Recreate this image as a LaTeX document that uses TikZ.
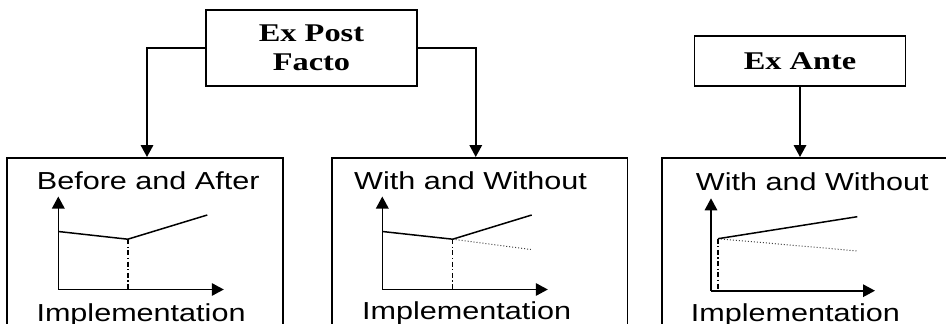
\documentclass[tikz,border=0pt]{standalone}
\usepackage{fontspec}
\newfontfamily\labelfont[FakeStretch=1.243]{Liberation Sans}
\newfontfamily\headfont[FakeStretch=1.27]{Liberation Serif}
\usetikzlibrary{arrows.meta}
\begin{document}
\begin{tikzpicture}[x=1pt,y=-1pt,
  headbox/.style={draw,line width=1.8pt,rectangle,minimum width=211pt,inner sep=0pt,
    align=center,font=\headfont\bfseries\fontsize{25.5}{29.3}\selectfont},
  methodbox/.style={draw,line width=1.8pt,rectangle,anchor=north,minimum height=200pt,inner sep=0pt},
  conn/.style={line width=1.8pt,-{Triangle[width=12.5pt,length=12pt]}},
  axis/.style={line width=1.6pt,-{Triangle[width=12.5pt,length=12pt]}},
  path/.style={line width=1.5pt},
  cf/.style={line width=1pt,dotted,black!75},
  cut/.style={line width=1.4pt,dash pattern=on 5pt off 2.5pt on 1.2pt off 2.5pt},
  lbl/.style={anchor=base west,inner sep=0pt,font=\labelfont\fontsize{24.6}{29}\selectfont}]
\useasboundingbox (0,0) rectangle (946,324);
\clip (0,0) rectangle (946,324);

% evaluation types
\node[headbox,minimum height=76pt] (expost) at (311.5,48) {Ex Post\\Facto};
\node[headbox,minimum height=50pt] (exante) at (800,61) {Ex Ante};

% method panels
\node[methodbox,minimum width=276pt] (ba) at (145,157) {};
\node[methodbox,minimum width=295.5pt] (ww) at (479.75,157) {};
\node[methodbox,minimum width=300pt] (wwa) at (812,157) {};

\draw[conn] (expost.west) -| ([xshift=2pt]ba.north);
\draw[conn] (expost.east) -| ([xshift=-4pt]ww.north);
\draw[conn] (exante.south) -- (exante.south |- wwa.north);

% panel titles
\node[lbl] (tba) at (36.7,189.3) {Before and After};
\node[lbl] (tww) at (354,189.3) {With and Without};
\node[lbl] (twwa) at (695.7,190.7) {With and Without};
\node[lbl] (iba) at (36.3,321) {Implementation};
\node[lbl] (iww) at (362,319.7) {Implementation};
\node[lbl] (iwwa) at (690.7,321.5) {Implementation};

% before and after chart
\begin{scope}[shift={(58.3,289.5)}]
  \draw[axis] (0,0) -- (0,-93);
  \draw[axis] (0,0) -- (165.5,0);
  \draw[cut] (69.5,-50.3) -- (69.5,0);
  \draw[path] (0,-58) -- (69.5,-50.3) -- (149,-74.5);
\end{scope}

% with and without chart (ex post)
\begin{scope}[shift={(382.3,289.5)}]
  \draw[axis] (0,0) -- (0,-93);
  \draw[axis] (0,0) -- (165.5,0);
  \draw[cut] (70.4,-50.3) -- (70.4,0);
  \draw[cf] (70.4,-50.3) -- (148.5,-40);
  \draw[path] (0,-58) -- (70.4,-50.3) -- (149.4,-74.5);
\end{scope}

% with and without chart (ex ante)
\begin{scope}[shift={(711,290.7)}]
  \draw[axis] (0,0) -- (0,-92.4);
  \draw[axis] (0,0) -- (164,0);
  \draw[cut] (7,-52) -- (7,0);
  \draw[cf] (7,-52) -- (147,-39.7);
  \draw[path] (7,-52) -- (146.3,-74);
\end{scope}
\end{tikzpicture}
\end{document}
